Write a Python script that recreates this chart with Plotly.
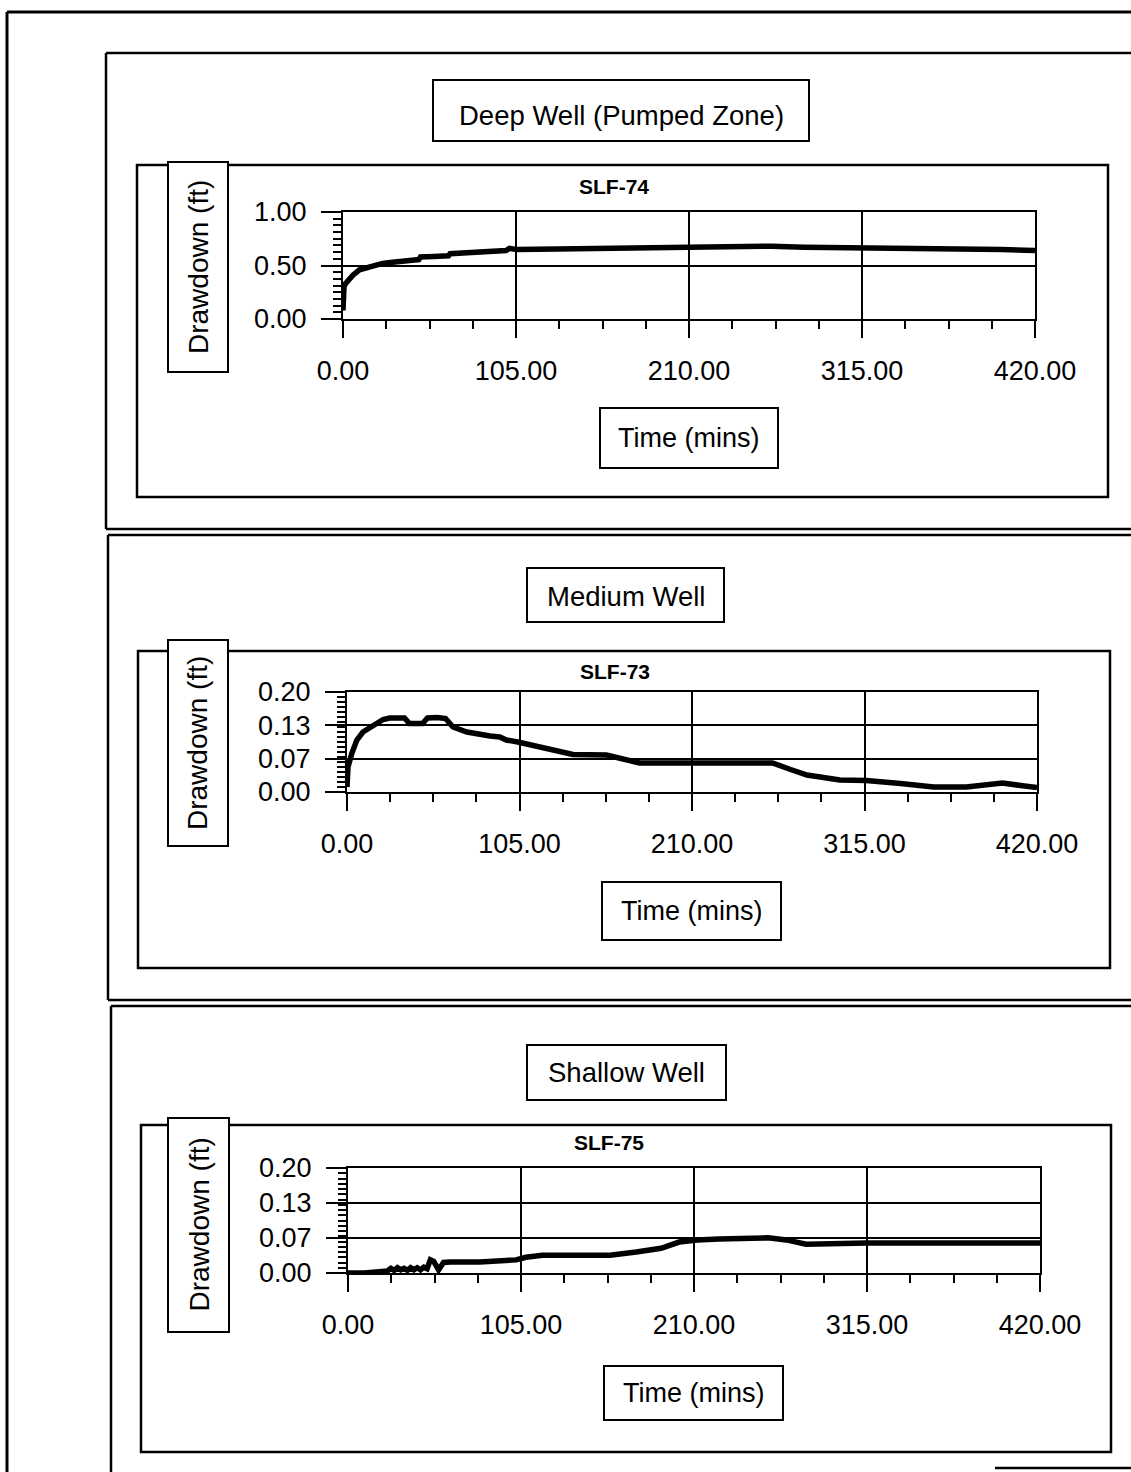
import plotly.graph_objects as go

# ---------------- data ----------------
SLF74_T = [0, 0.3, 0.6, 1.5, 3, 6, 10, 14, 18, 24, 30, 36, 42, 46, 47, 55, 64, 65, 80, 99, 101, 105,
           130, 150, 180, 210, 240, 260, 280, 315, 350, 380, 400, 420]
SLF74_D = [0.08, 0.2, 0.3, 0.33, 0.36, 0.41, 0.46, 0.48, 0.50, 0.52, 0.53, 0.545, 0.55, 0.555, 0.58, 0.585,
           0.59, 0.61, 0.62, 0.64, 0.66, 0.65, 0.655, 0.66, 0.665, 0.67, 0.68, 0.68, 0.67, 0.665, 0.665,
           0.66, 0.65, 0.64]

SLF73_T = [0, 0.6, 3, 6, 9.7, 15.8, 22, 26, 30, 35, 38, 42, 46, 49, 55, 60, 64.5, 73, 81, 87, 93, 97,
           104, 119, 137.5, 158, 178, 210, 259, 270, 280, 300, 316, 337, 357, 377, 390, 399, 410, 420]
SLF73_D = [0.01, 0.05, 0.078, 0.104, 0.12, 0.134, 0.145, 0.148, 0.147, 0.148, 0.137, 0.136, 0.137,
           0.148, 0.149, 0.147, 0.13, 0.12, 0.114, 0.112, 0.11, 0.104, 0.10, 0.09, 0.075, 0.074, 0.058,
           0.058, 0.058, 0.045, 0.034, 0.024, 0.023, 0.017, 0.01, 0.01, 0.014, 0.018, 0.013, 0.009]

SLF75_T = [0, 10, 24, 26, 28, 30, 32, 34, 36, 38, 40, 42, 44, 46, 48, 50, 52, 55, 58, 62, 80, 102,
           108, 118, 140, 159, 175, 190, 201, 212, 225, 240, 255, 266, 278, 300, 315, 360, 420]
SLF75_D = [0, 0, 0.004, 0.009, 0.005, 0.01, 0.006, 0.009, 0.005, 0.01, 0.006, 0.01, 0.006, 0.011,
           0.008, 0.025, 0.022, 0.006, 0.02, 0.021, 0.021, 0.025, 0.03, 0.034, 0.034, 0.034, 0.04,
           0.047, 0.059, 0.063, 0.065, 0.067, 0.067, 0.063, 0.055, 0.056, 0.057, 0.057, 0.057]

X_TICK_VALS = [0, 105, 210, 315, 420]
X_TICK_LABELS = ["0.00", "105.00", "210.00", "315.00", "420.00"]
Y1_TICK_VALS = [0, 0.5, 1.0]
Y1_TICK_LABELS = ["0.00", "0.50", "1.00"]
Y2_TICK_VALS = [0, 0.2 / 3, 0.4 / 3, 0.2]
Y2_TICK_LABELS = ["0.00", "0.07", "0.13", "0.20"]

PANEL_TITLES = ["Deep Well (Pumped Zone)", "Medium Well", "Shallow Well"]
WELL_NAMES = ["SLF-74", "SLF-73", "SLF-75"]
Y_LABEL = "Drawdown (ft)"
X_LABEL = "Time (mins)"

# ---------------- layout geometry (pixels) ----------------
W, H = 1131, 1472
FONT = "Liberation Sans, Arial, Helvetica, sans-serif"


def fx(x):
    return x / W


def fy(y):
    return 1 - y / H


panels = [
    dict(t=SLF74_T, d=SLF74_D, yr=[0, 1.0], yv=Y1_TICK_VALS, yl=Y1_TICK_LABELS, ymin=0.0625,
         plot=(343, 1035, 212, 319),
         outer=(106, 53, 529), inner=(137, 1108, 165, 497),
         title=(433, 809, 80, 141), title_y=115, ylab=(168, 228, 162, 372),
         xlab=(600, 778, 408, 468), well=(614, 186)),
    dict(t=SLF73_T, d=SLF73_D, yr=[0, 0.2], yv=Y2_TICK_VALS, yl=Y2_TICK_LABELS, ymin=0.01,
         plot=(347, 1037, 692, 792),
         outer=(108, 535, 1000), inner=(138, 1110, 651, 968),
         title=(527, 724, 568, 622), title_y=596, ylab=(168, 228, 640, 846),
         xlab=(602, 781, 882, 940), well=(615, 671)),
    dict(t=SLF75_T, d=SLF75_D, yr=[0, 0.2], yv=Y2_TICK_VALS, yl=Y2_TICK_LABELS, ymin=0.01,
         plot=(348, 1040, 1168, 1273),
         outer=(111, 1006, None), inner=(141, 1111, 1125, 1452),
         title=(527, 726, 1045, 1100), title_y=1072, ylab=(168, 229, 1118, 1332),
         xlab=(604, 783, 1366, 1420), well=(609, 1142)),
]

fig = go.Figure()
shapes = []
annotations = []


def line(x0, y0, x1, y1, w=2):
    shapes.append(dict(type="line", xref="paper", yref="paper", x0=fx(x0), y0=fy(y0),
                       x1=fx(x1), y1=fy(y1), line=dict(color="black", width=w)))


def rect(x0, x1, y0, y1, w=2, fill="rgba(0,0,0,0)"):
    shapes.append(dict(type="rect", xref="paper", yref="paper", x0=fx(x0), y0=fy(y0),
                       x1=fx(x1), y1=fy(y1), line=dict(color="black", width=w), fillcolor=fill))


def text(s, x, y, size=26, bold=False, angle=0):
    annotations.append(dict(text=f"<b>{s}</b>" if bold else s, xref="paper", yref="paper",
                            x=fx(x), y=fy(y), xanchor="center", yanchor="middle", showarrow=False,
                            textangle=angle, font=dict(family=FONT, size=size, color="black")))


# outer page frame
line(7, 12, W, 12, 3)
line(7, 12, 7, H, 3)

for i, p in enumerate(panels):
    n = "" if i == 0 else str(i + 1)
    x0, x1, ytop, ybot = p["plot"]
    fig.add_trace(go.Scatter(x=p["t"], y=p["d"], mode="lines", xaxis="x" + n, yaxis="y" + n,
                             line=dict(color="black", width=5.5), showlegend=False,
                             hoverinfo="skip"))
    axis_common = dict(showline=True, mirror=True, linecolor="black", linewidth=2,
                       showgrid=True, gridcolor="black", gridwidth=2, zeroline=False,
                       ticks="outside", tickcolor="black", tickwidth=2, automargin=False,
                       tickfont=dict(family=FONT, size=27, color="black"))
    fig.update_layout(**{
        "xaxis" + n: dict(axis_common, domain=[fx(x0), fx(x1)], range=[0, 420],
                          tickmode="array", tickvals=X_TICK_VALS, ticktext=X_TICK_LABELS,
                          ticklen=17, ticklabelstandoff=10, anchor="y" + n,
                          minor=dict(ticks="outside", ticklen=8, tickwidth=2, tickcolor="black",
                                     tick0=0, dtick=26.25, showgrid=False)),
        "yaxis" + n: dict(axis_common, domain=[fy(ybot), fy(ytop)], range=p["yr"],
                          tickmode="array", tickvals=p["yv"], ticktext=p["yl"],
                          ticklen=20, ticklabelstandoff=9, anchor="x" + n,
                          minor=dict(ticks="outside", ticklen=8, tickwidth=2, tickcolor="black",
                                     tick0=0, dtick=p["ymin"], showgrid=False)),
    })

    ox, otop, obot = p["outer"]
    line(ox, otop, W, otop, 2.5)
    line(ox, otop, ox, obot if obot else H, 2.5)
    if obot:
        line(ox, obot, W, obot, 2.5)

    ix0, ix1, iy0, iy1 = p["inner"]
    rect(ix0, ix1, iy0, iy1, 2.5)

    tx0, tx1, ty0, ty1 = p["title"]
    rect(tx0, tx1, ty0, ty1, 2, "white")
    text(PANEL_TITLES[i], (tx0 + tx1) / 2, p["title_y"], 27.5)

    lx0, lx1, ly0, ly1 = p["ylab"]
    rect(lx0, lx1, ly0, ly1, 2, "white")
    text(Y_LABEL, (lx0 + lx1) / 2, (ly0 + ly1) / 2, 28, angle=-90)

    bx0, bx1, by0, by1 = p["xlab"]
    rect(bx0, bx1, by0, by1, 2, "white")
    text(X_LABEL, (bx0 + bx1) / 2, (by0 + by1) / 2, 27)

    wx, wy = p["well"]
    text(WELL_NAMES[i], wx, wy, 21, bold=True)

# partial bottom edge of last panel visible in scan
line(995, 1468, W, 1468, 2.5)

fig.update_layout(width=W, height=H, margin=dict(l=0, r=0, t=0, b=0, autoexpand=False),
                  paper_bgcolor="white", plot_bgcolor="white",
                  shapes=shapes, annotations=annotations, showlegend=False)

fig.write_html("out.html", config={"displayModeBar": False},
               post_script="document.body.style.margin='0';document.body.style.overflow='hidden';")
